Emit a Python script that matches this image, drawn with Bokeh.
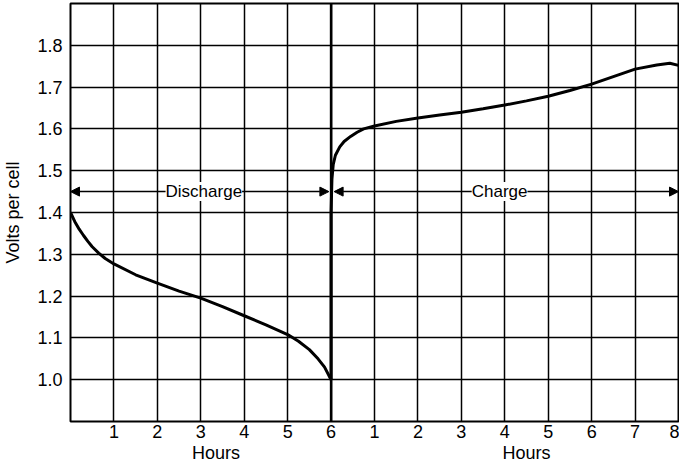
from bokeh.plotting import figure
from bokeh.models import (Range1d, FixedTicker, LinearAxis, Span, Label, Arrow, NormalHead,
                          NumeralTickFormatter)
from bokeh.embed import file_html
from bokeh.resources import INLINE

# ---- data ----
discharge_hours = [0, 0.1, 0.2, 0.3, 0.4, 0.5, 0.65, 0.8, 1, 1.5, 2, 2.5, 3, 3.5, 4, 4.5, 5,
                   5.25, 5.5, 5.7, 5.85, 6]
discharge_volts = [1.40, 1.378, 1.360, 1.345, 1.331, 1.318, 1.303, 1.290, 1.277, 1.251, 1.231, 1.212,
                   1.195, 1.175, 1.153, 1.131, 1.108, 1.092, 1.072, 1.050, 1.030, 1.0]
charge_hours = [0, 0, 0.02, 0.05, 0.1, 0.2, 0.3, 0.45, 0.6, 0.75, 1, 1.5, 2, 2.5, 3, 3.5, 4, 4.5,
                5, 5.5, 6, 6.5, 7, 7.5, 7.8, 8]
charge_volts = [1.0, 1.40, 1.48, 1.515, 1.537, 1.557, 1.57, 1.582, 1.592, 1.60, 1.607, 1.618, 1.626,
                1.633, 1.64, 1.648, 1.657, 1.667, 1.678, 1.692, 1.707, 1.725, 1.743, 1.753, 1.757, 1.752]
discharge_duration = 6
charge_duration = 8
tick_labels = ["1", "2", "3", "4", "5", "6", "1", "2", "3", "4", "5", "6", "7", "8"]
volt_ticks = [1.0, 1.1, 1.2, 1.3, 1.4, 1.5, 1.6, 1.7, 1.8]
phase_names = ["Discharge", "Charge"]
phase_label_pos = [3.07, 9.88]
hours_label_pos = [3.35, 10.5]
arrow_level = 1.45

FONT = "Liberation Sans"
total = discharge_duration + charge_duration
charge_x = [discharge_duration + h for h in charge_hours]

p = figure(width=679, height=467, output_backend="svg", toolbar_location=None,
           x_range=Range1d(0, total), y_range=Range1d(0.9, 1.9),
           min_border_left=69, min_border_right=1, min_border_top=3, min_border_bottom=46)
p.background_fill_color = "white"
p.border_fill_color = "white"
p.outline_line_color = "black"
p.outline_line_width = 2

# grid
p.xgrid.ticker = FixedTicker(ticks=list(range(0, total + 1)))
p.ygrid.ticker = FixedTicker(ticks=volt_ticks)
for g in (p.xgrid, p.ygrid):
    g.grid_line_color = "black"
    g.grid_line_width = 1.5
    g.grid_line_alpha = 1.0

# axes
xa = p.xaxis[0]
xa.ticker = FixedTicker(ticks=list(range(1, total + 1)))
xa.major_label_overrides = {i + 1: lab for i, lab in enumerate(tick_labels)}
ya = p.yaxis[0]
ya.ticker = FixedTicker(ticks=volt_ticks)
ya.formatter = NumeralTickFormatter(format="0.0")
ya.axis_label = "Volts per cell"
ya.axis_label_text_font_style = "normal"
ya.axis_label_text_font = FONT
ya.axis_label_text_font_size = "18px"
ya.axis_label_text_color = "black"
ya.axis_label_standoff = 11

hours_axis = LinearAxis(ticker=FixedTicker(ticks=hours_label_pos),
                        major_label_overrides={v: "Hours" for v in hours_label_pos})
p.add_layout(hours_axis, "below")

for ax in (xa, ya, hours_axis):
    ax.axis_line_color = None
    ax.major_tick_line_color = None
    ax.minor_tick_line_color = None
    ax.major_tick_out = 0
    ax.major_tick_in = 0
    ax.minor_tick_out = 0
    ax.minor_tick_in = 0
    ax.major_label_text_font = FONT
    ax.major_label_text_font_size = "18px"
    ax.major_label_text_color = "black"
xa.major_label_standoff = 3
ya.major_label_standoff = 8
hours_axis.major_label_standoff = 2

# boundary line between phases
p.add_layout(Span(location=discharge_duration, dimension="height", line_color="black", line_width=2.5))

# curves
p.line(discharge_hours, discharge_volts, line_color="black", line_width=3)
p.line(charge_x, charge_volts, line_color="black", line_width=3)

# phase arrows
def head():
    return NormalHead(size=9, fill_color="black", line_color="black", line_width=1)

bounds = [(0, discharge_duration - 0.05), (discharge_duration + 0.07, total)]
for (a, b), c in zip(bounds, phase_label_pos):
    p.add_layout(Arrow(end=head(), x_start=c, y_start=arrow_level, x_end=a, y_end=arrow_level,
                       line_color="black", line_width=1.5))
    p.add_layout(Arrow(end=head(), x_start=c, y_start=arrow_level, x_end=b, y_end=arrow_level,
                       line_color="black", line_width=1.5))
for name, c in zip(phase_names, phase_label_pos):
    p.add_layout(Label(x=c, y=arrow_level, text=name, text_align="center", text_baseline="middle",
                       text_font=FONT, text_font_size="17px", text_color="black",
                       background_fill_color="white", background_fill_alpha=1.0))

open("out.html", "w").write(file_html(p, INLINE))
